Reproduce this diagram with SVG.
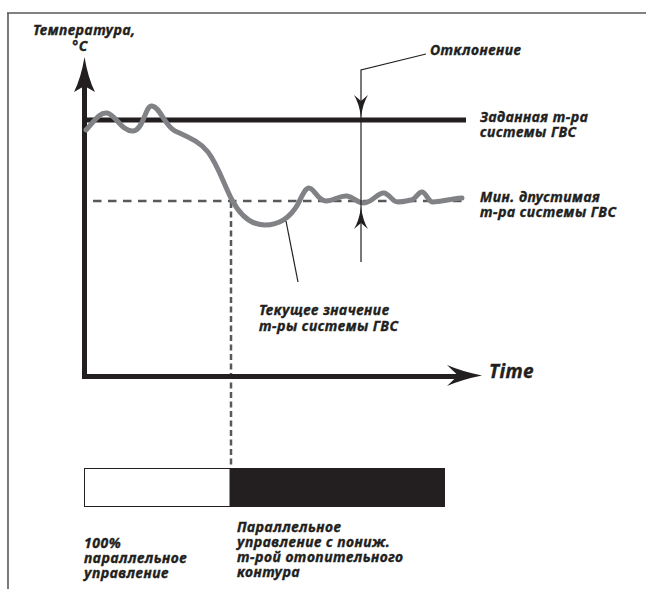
<svg xmlns="http://www.w3.org/2000/svg" width="646" height="589" viewBox="0 0 646 589">
<style>
.t{font-family:"Noto Sans","Open Sans","DejaVu Sans",sans-serif;font-weight:700;font-style:italic;font-size:14px;letter-spacing:0.5px;fill:#231f20;stroke:#231f20;stroke-width:0.35}
.ax{stroke:#231f20;stroke-width:5;fill:none}
.ah{fill:#231f20}
.thin{stroke:#231f20;stroke-width:1.2;fill:none}
.dash{stroke:#58595b;stroke-width:2.5;fill:none}
</style>
<rect x="0" y="0" width="646" height="589" fill="#fff"/>
<g id="frame">
<path d="M7,13 H646 M8,13 V589" stroke="#58595b" stroke-width="1.6" fill="none"/>
</g>
<g id="connectors">
<line class="dash" x1="93" y1="201" x2="467" y2="201" stroke-dasharray="8.5,6.5"/>
<line class="dash" x1="231" y1="202" x2="231" y2="468" stroke-dasharray="6,3.5" stroke-width="2.3"/>
<line x1="84" y1="120" x2="466" y2="120" stroke="#231f20" stroke-width="5"/>
<path class="ax" d="M84.5,80 V376.5 H462"/>
<path class="ah" d="M84.5,57 Q88,78 95,92 L84.5,86 L74,92 Q81,78 84.5,57 Z"/>
<path class="ah" d="M482,375.5 Q462,371.5 447,365 L458,375.5 L447,386 Q462,379.5 482,375.5 Z"/>
<path d="M86,130 C95,120 100,112 107,113 C115,114 122,132 133,131 C144,130 145,105 152,106 C160,107 165,126 175,131 C190,138 200,142 208,152 C218,165 224,185 232,200 C240,215 250,225 265,225 C280,225 290,218 298,204 C302,196 305,188 309,188 C314,188 318,201 326,201 C334,201 340,195 347,196 C354,197 357,203 364,203 C372,203 378,192 384,193 C390,194 392,202 398,202 C404,202 406,201 411,200 C416,199 418,192 422,192 C426,192 428,202 433,202 C440,202 450,199 462,198" stroke="#808285" stroke-width="5" fill="none" stroke-linecap="round"/>
<path class="thin" d="M426,54 L361,70 V262"/>
<path class="ah" d="M361,117 Q363,103 368,95 L361,101 L354,95 Q359,103 361,117 Z"/>
<path class="ah" d="M361,207 Q363,221 368,229 L361,223 L354,229 Q359,221 361,207 Z"/>
<path class="thin" d="M286,221 L298,282"/>
</g>
<g id="bar">
<rect x="84.5" y="468.5" width="145.5" height="38" fill="#fff" stroke="#231f20" stroke-width="1"/>
<rect x="230" y="468" width="215" height="39" fill="#231f20"/>
</g>
<g id="labels">
<text class="t" x="33" y="35">Температура,</text>
<text class="t" x="80" y="51" text-anchor="middle">°C</text>
<text class="t" x="430" y="55">Отклонение</text>
<text class="t" x="480" y="122">Заданная т-ра</text>
<text class="t" x="480" y="137">системы ГВС</text>
<text class="t" x="480" y="202">Мин. дпустимая</text>
<text class="t" x="480" y="217">т-ра системы ГВС</text>
<text class="t" x="259" y="315">Текущее значение</text>
<text class="t" x="259" y="331">т-ры системы ГВС</text>
<text class="t" x="489" y="378" style="font-size:19px;letter-spacing:0.3px">Time</text>
<text class="t" x="84" y="548">100%</text>
<text class="t" x="84" y="563">параллельное</text>
<text class="t" x="84" y="578">управление</text>
<text class="t" x="237" y="532">Параллельное</text>
<text class="t" x="237" y="547">управление с пониж.</text>
<text class="t" x="237" y="562">т-рой отопительного</text>
<text class="t" x="237" y="577">контура</text>
</g>
</svg>
